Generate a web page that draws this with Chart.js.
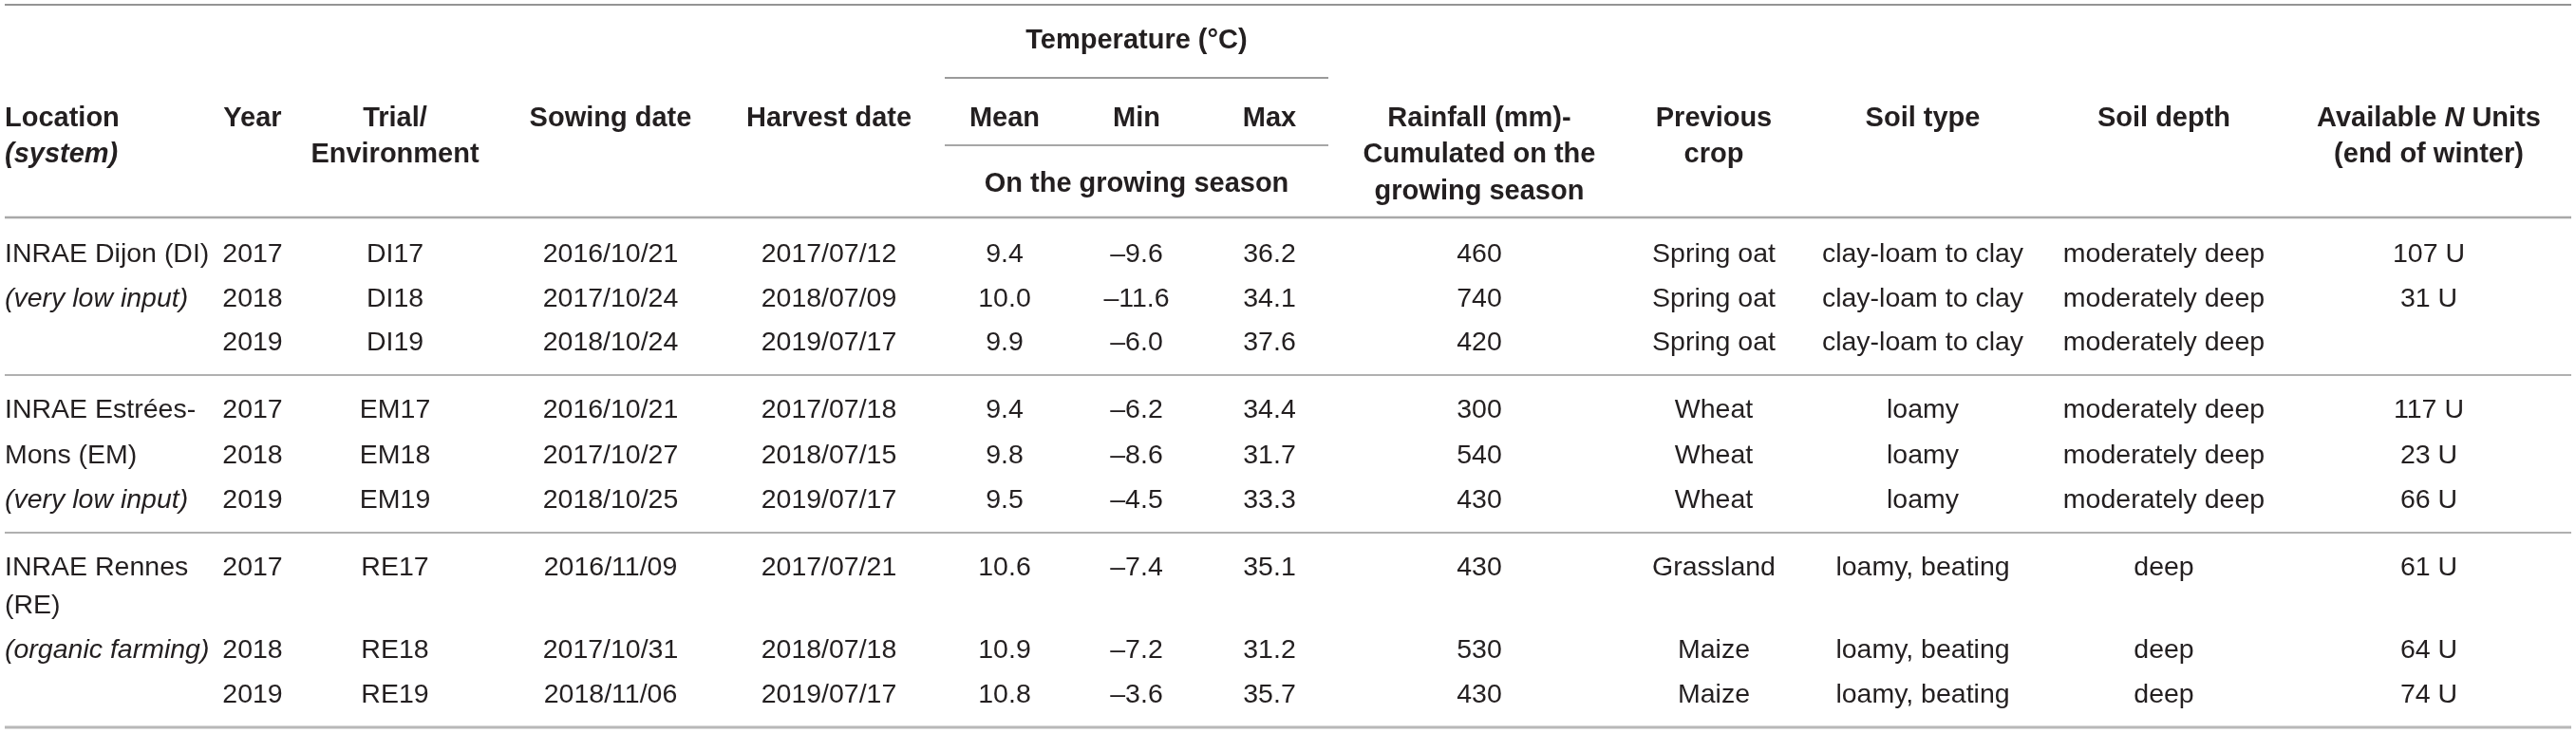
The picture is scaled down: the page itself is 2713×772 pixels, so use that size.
<!DOCTYPE html>
<html><head><meta charset="utf-8">
<script src="https://cdn.jsdelivr.net/npm/chart.js@4.4.1/dist/chart.umd.min.js"></script>
<style>html,body{margin:0;padding:0;background:#fff;overflow:hidden}canvas{display:block}</style>
</head><body>
<canvas id="c" width="2713" height="772" style="width:2713px;height:772px"></canvas>
<script>
// ---------------- DATA ----------------
const locationLines = [["INRAE Dijon (DI)"], ["INRAE Estrées-", "Mons (EM)"], ["INRAE Rennes", "(RE)"]];
const systems = ["very low input", "very low input", "organic farming"];
const years = [2017, 2018, 2019, 2017, 2018, 2019, 2017, 2018, 2019];
const trials = ["DI17", "DI18", "DI19", "EM17", "EM18", "EM19", "RE17", "RE18", "RE19"];
const sowingDates = ["2016/10/21", "2017/10/24", "2018/10/24", "2016/10/21", "2017/10/27", "2018/10/25", "2016/11/09", "2017/10/31", "2018/11/06"];
const harvestDates = ["2017/07/12", "2018/07/09", "2019/07/17", "2017/07/18", "2018/07/15", "2019/07/17", "2017/07/21", "2018/07/18", "2019/07/17"];
const tempMean = [9.4, 10.0, 9.9, 9.4, 9.8, 9.5, 10.6, 10.9, 10.8];
const tempMin = [-9.6, -11.6, -6.0, -6.2, -8.6, -4.5, -7.4, -7.2, -3.6];
const tempMax = [36.2, 34.1, 37.6, 34.4, 31.7, 33.3, 35.1, 31.2, 35.7];
const rainfall = [460, 740, 420, 300, 540, 430, 430, 530, 430];
const previousCrop = ["Spring oat", "Spring oat", "Spring oat", "Wheat", "Wheat", "Wheat", "Grassland", "Maize", "Maize"];
const soilType = ["clay-loam to clay", "clay-loam to clay", "clay-loam to clay", "loamy", "loamy", "loamy", "loamy, beating", "loamy, beating", "loamy, beating"];
const soilDepth = ["moderately deep", "moderately deep", "moderately deep", "moderately deep", "moderately deep", "moderately deep", "deep", "deep", "deep"];
const availableN = [107, 31, null, 117, 23, 66, 61, 64, 74];

// header labels (segments: [text, italic])
const headerTemperature = "Temperature (°C)";
const headerSeason = "On the growing season";
const headerLabels = {
  loc: [[["Location", false]], [["(system)", true]]],
  year: [[["Year", false]]],
  trial: [[["Trial/", false]], [["Environment", false]]],
  sow: [[["Sowing date", false]]],
  harv: [[["Harvest date", false]]],
  mean: [[["Mean", false]]],
  min: [[["Min", false]]],
  max: [[["Max", false]]],
  rain: [[["Rainfall (mm)-", false]], [["Cumulated on the", false]], [["growing season", false]]],
  prev: [[["Previous", false]], [["crop", false]]],
  soil: [[["Soil type", false]]],
  depth: [[["Soil depth", false]]],
  n: [[["Available ", false], ["N", true], [" Units", false]], [["(end of winter)", false]]]
};

// ---------------- LAYOUT ----------------
const W = 2713, H = 772;
const colX = {loc: 5, year: 266, trial: 416, sow: 643, harv: 873, mean: 1058, min: 1197, max: 1337,
  rain: 1558, prev: 1805, soil: 2025, depth: 2279, n: 2558};
const rowY = [276, 323, 369, 440, 488, 535, 606, 693, 740];
const locLineY = [[276, 323], [440, 488, 535], [606, 646, 693]];
const headerLineY = [133, 171, 210];
const tempTitleY = 51, seasonY = 202;
const rules = [
  {x0: 5, x1: 2708, y: 5, w: 1.5, c: "#707070"},
  {x0: 995, x1: 1399, y: 82, w: 1.5, c: "#7a7a7a"},
  {x0: 995, x1: 1399, y: 153, w: 1.5, c: "#8a8a8a"},
  {x0: 5, x1: 2708, y: 229, w: 2.5, c: "#a8a8a8"},
  {x0: 5, x1: 2708, y: 395, w: 2, c: "#b0b0b0"},
  {x0: 5, x1: 2708, y: 561, w: 2, c: "#b0b0b0"},
  {x0: 5, x1: 2708, y: 766, w: 3, c: "#b8b8b8"}
];
const FAMILY = '"Liberation Sans", Arial, Helvetica, sans-serif';
const REG = {size: 28.5, weight: "normal"};
const BOLD = {size: 29, weight: "bold"};
const TEXT = "#231f20";

// ---------------- BUILD DATASETS ----------------
const fmt1 = v => v.toFixed(1).replace("-", "\u2013");
const datasets = [];
function addCol(key, values, style, align) {
  const pts = [], txt = [];
  values.forEach((v, r) => {
    if (v === null || v === undefined) return;
    pts.push({x: colX[key], y: rowY[r]});
    txt.push(Array.isArray(v) ? v : [[String(v), false]]);
  });
  datasets.push({data: pts, cellText: txt, cellStyle: style, cellAlign: align || "center"});
}
addCol("year", years, REG);
addCol("trial", trials, REG);
addCol("sow", sowingDates, REG);
addCol("harv", harvestDates, REG);
addCol("mean", tempMean.map(fmt1), REG);
addCol("min", tempMin.map(fmt1), REG);
addCol("max", tempMax.map(fmt1), REG);
addCol("rain", rainfall, REG);
addCol("prev", previousCrop, REG);
addCol("soil", soilType, REG);
addCol("depth", soilDepth, REG);
addCol("n", availableN.map(v => v === null ? null : v + " U"), REG);

// location column
(function () {
  const pts = [], txt = [];
  locationLines.forEach((lines, g) => {
    const ys = locLineY[g];
    lines.forEach((l, i) => { pts.push({x: colX.loc, y: ys[i]}); txt.push([[l, false]]); });
    pts.push({x: colX.loc, y: ys[lines.length]}); txt.push([["(" + systems[g] + ")", true]]);
  });
  datasets.push({data: pts, cellText: txt, cellStyle: REG, cellAlign: "left"});
})();

// headers
(function () {
  const pts = [], txt = [];
  Object.keys(headerLabels).forEach(k => {
    headerLabels[k].forEach((segs, i) => {
      pts.push({x: colX[k], y: headerLineY[i]}); txt.push(segs);
    });
  });
  datasets.push({data: pts, cellText: txt, cellStyle: BOLD, cellAlign: "center", alignByX: {5: "left"}});
  datasets.push({data: [{x: colX.min, y: tempTitleY}, {x: colX.min, y: seasonY}],
    cellText: [[[headerTemperature, false]], [[headerSeason, false]]], cellStyle: BOLD, cellAlign: "center"});
})();

datasets.forEach(d => { d.pointRadius = 0; d.pointHoverRadius = 0; d.showLine = false; });

// ---------------- PLUGIN ----------------
const tablePlugin = {
  id: "tableText",
  beforeDatasetsDraw(chart) {
    const ctx = chart.ctx, xs = chart.scales.x, ys = chart.scales.y;
    ctx.save();
    rules.forEach(r => {
      ctx.beginPath();
      ctx.strokeStyle = r.c; ctx.lineWidth = r.w;
      const y = ys.getPixelForValue(r.y);
      ctx.moveTo(xs.getPixelForValue(r.x0), y);
      ctx.lineTo(xs.getPixelForValue(r.x1), y);
      ctx.stroke();
    });
    ctx.restore();
  },
  afterDatasetsDraw(chart) {
    const ctx = chart.ctx;
    ctx.save();
    ctx.fillStyle = TEXT;
    ctx.textBaseline = "alphabetic";
    chart.data.datasets.forEach((ds, i) => {
      const meta = chart.getDatasetMeta(i);
      const st = ds.cellStyle;
      meta.data.forEach((el, j) => {
        const segs = ds.cellText[j];
        const raw = ds.data[j];
        let align = ds.cellAlign;
        if (ds.alignByX && ds.alignByX[raw.x]) align = ds.alignByX[raw.x];
        const fonts = segs.map(s => (s[1] ? "italic " : "") + st.weight + " " + st.size + "px " + FAMILY);
        const widths = segs.map((s, k) => { ctx.font = fonts[k]; return ctx.measureText(s[0]).width; });
        const total = widths.reduce((a, b) => a + b, 0);
        let x = align === "left" ? el.x : el.x - total / 2;
        segs.forEach((s, k) => {
          ctx.font = fonts[k]; ctx.textAlign = "left";
          ctx.fillText(s[0], x, el.y);
          x += widths[k];
        });
      });
    });
    ctx.restore();
  }
};

new Chart(document.getElementById("c"), {
  type: "scatter",
  data: {datasets},
  options: {
    responsive: false, animation: false, devicePixelRatio: 1,
    layout: {padding: 0},
    events: [],
    plugins: {legend: {display: false}, tooltip: {enabled: false}},
    scales: {
      x: {type: "linear", min: 0, max: W, display: false},
      y: {type: "linear", min: 0, max: H, reverse: true, display: false}
    }
  },
  plugins: [tablePlugin]
});
</script>
</body></html>
